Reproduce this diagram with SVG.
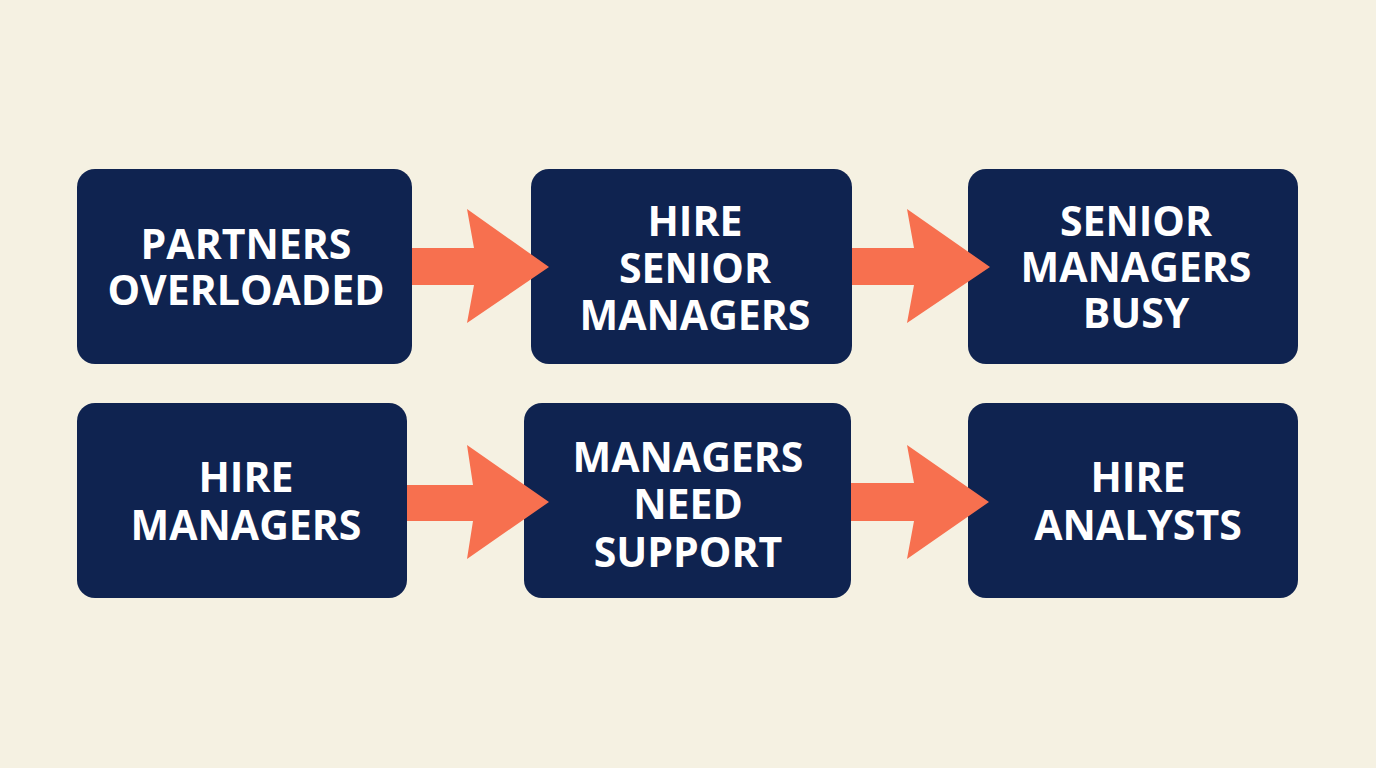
<svg xmlns="http://www.w3.org/2000/svg" width="1376" height="768" viewBox="0 0 1376 768">
<style>
.box{fill:#0f2350}
.t{fill:#ffffff;font-family:"Open Sans","Noto Sans","Liberation Sans",sans-serif;font-weight:700;font-size:41px;text-anchor:middle}
.arr{fill:#f7704f}
</style>
<rect width="1376" height="768" fill="#f5f1e2"/>
<g id="n1"><rect class="box" x="77" y="169" width="335" height="195" rx="18"/>
<text class="t" x="246" y="259">PARTNERS</text><text class="t" x="246" y="305">OVERLOADED</text></g>
<g id="n2"><rect class="box" x="531" y="169" width="321" height="195" rx="18"/>
<text class="t" x="695" y="236">HIRE</text><text class="t" x="695" y="283">SENIOR</text><text class="t" x="695" y="330">MANAGERS</text></g>
<g id="n3"><rect class="box" x="968" y="169" width="330" height="195" rx="18"/>
<text class="t" x="1136" y="236">SENIOR</text><text class="t" x="1136" y="282">MANAGERS</text><text class="t" x="1136" y="328">BUSY</text></g>
<g id="n4"><rect class="box" x="77" y="403" width="330" height="195" rx="18"/>
<text class="t" x="246" y="492">HIRE</text><text class="t" x="246" y="540">MANAGERS</text></g>
<g id="n5"><rect class="box" x="524" y="403" width="327" height="195" rx="18"/>
<text class="t" x="688" y="472">MANAGERS</text><text class="t" x="688" y="519">NEED</text><text class="t" x="688" y="567">SUPPORT</text></g>
<g id="n6"><rect class="box" x="968" y="403" width="330" height="195" rx="18"/>
<text class="t" x="1138" y="492">HIRE</text><text class="t" x="1138" y="540">ANALYSTS</text></g>
<g id="connectors">
<polygon class="arr" points="412,248 474,248 467,209 549,267 467,323 474,285 412,285"/>
<polygon class="arr" points="852,248 914,248 907,209 990,267 907,323 914,285 852,285"/>
<polygon class="arr" points="407,485 473,485 467,445 549,502 467,559 473,521 407,521"/>
<polygon class="arr" points="851,483 914,483 907,445 989,502 907,559 914,521 851,521"/>
</g>
</svg>
